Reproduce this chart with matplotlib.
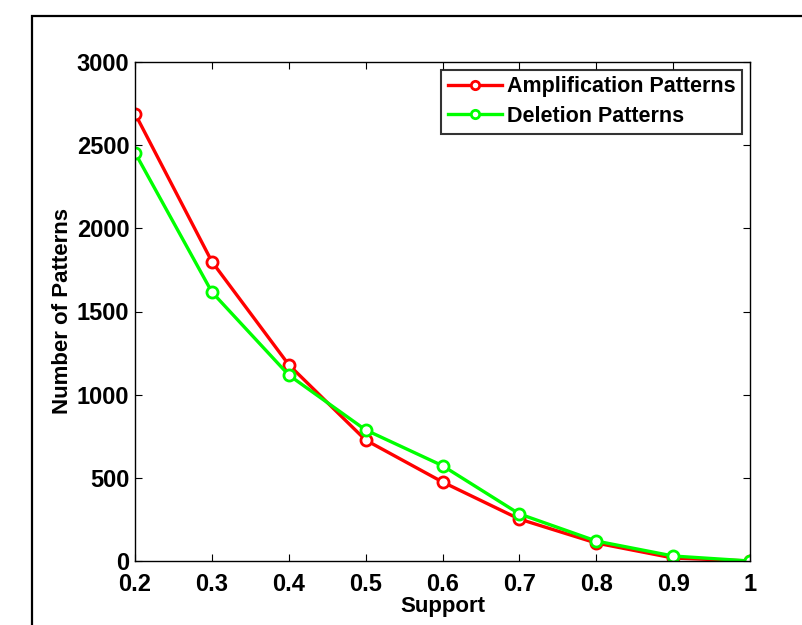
import matplotlib
matplotlib.use("Agg")
import matplotlib.pyplot as plt
from matplotlib.patches import Rectangle

support = [0.2, 0.3, 0.4, 0.5, 0.6, 0.7, 0.8, 0.9, 1.0]
amplification = [2690, 1800, 1180, 727, 475, 252, 108, 18, 0]
deletion = [2455, 1617, 1118, 788, 573, 283, 120, 30, 0]
xticks = [0.2, 0.3, 0.4, 0.5, 0.6, 0.7, 0.8, 0.9, 1.0]
xticklabels = ["0.2", "0.3", "0.4", "0.5", "0.6", "0.7", "0.8", "0.9", "1"]
yticks = [0, 500, 1000, 1500, 2000, 2500, 3000]

plt.rcParams['font.family'] = ['Liberation Sans', 'DejaVu Sans']
plt.rcParams['font.weight'] = 'bold'

W, H = 802, 625
fig = plt.figure(figsize=(W / 100, H / 100), dpi=100)

# outer figure frame (runs off the right and bottom edges)
fig.patches.append(Rectangle((32 / W, -0.1), 1.2, 1 - 16 / H + 0.1,
                             transform=fig.transFigure, fill=False,
                             edgecolor='black', linewidth=1.6))

ax = fig.add_axes([135 / W, 1 - 561 / H, (750 - 135) / W, (561 - 62) / H])

ax.plot(support, amplification, color='#ff0000', linewidth=2.4, marker='o',
        markersize=8, markerfacecolor='white', markeredgewidth=2,
        label='Amplification Patterns')
ax.plot(support, deletion, color='#00ff00', linewidth=2.4, marker='o',
        markersize=8, markerfacecolor='white', markeredgewidth=2,
        label='Deletion Patterns')

ax.set_xlim(0.2, 1.0)
ax.set_ylim(0, 3000)
ax.set_xticks(xticks)
ax.set_xticklabels(xticklabels)
ax.set_yticks(yticks)
ax.tick_params(direction='in', top=True, right=True, length=5, width=0.8,
               labelsize=17)
ax.tick_params(axis='y', pad=4)
ax.tick_params(axis='x', pad=8.5)
for lbl in ax.get_xticklabels() + ax.get_yticklabels():
    lbl.set_fontweight('bold')
for s in ax.spines.values():
    s.set_linewidth(1.0)

ax.set_xlabel('Support', fontsize=16, fontweight='bold', labelpad=0)
ax.set_ylabel('Number of Patterns', fontsize=16, fontweight='bold', labelpad=3)

leg = ax.legend(loc='upper right', fontsize=15.5, frameon=True, fancybox=False,
                handlelength=2.5, handletextpad=0.25, borderpad=0.32,
                labelspacing=0.4, borderaxespad=0.35, markerscale=0.75)
leg.get_frame().set_edgecolor('black')
leg.get_frame().set_linewidth(1.5)
for t in leg.get_texts():
    t.set_fontweight('bold')

fig.savefig('out.png', dpi=100)
